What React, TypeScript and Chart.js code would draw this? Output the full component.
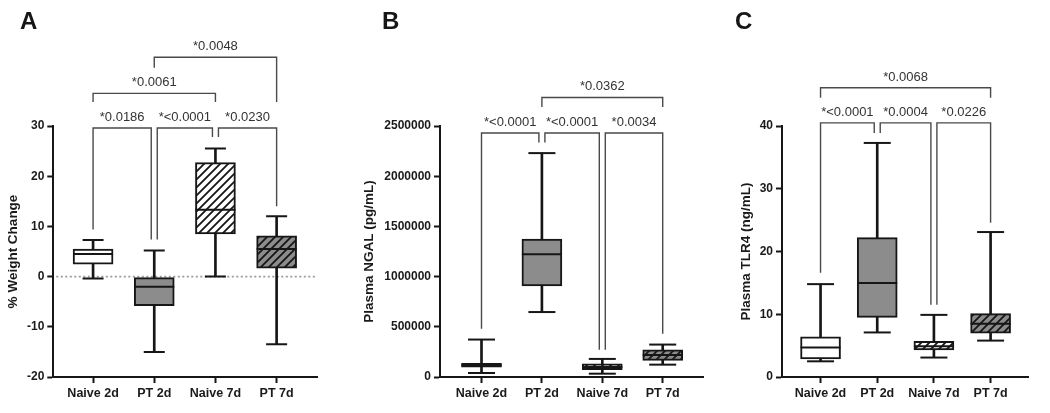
import React, { useEffect, useRef } from "react";
import { Chart, registerables } from "chart.js";

Chart.register(...registerables);
Chart.defaults.font.family = '"Liberation Sans", Arial, Helvetica, sans-serif';

const categories = ["Naive 2d", "PT 2d", "Naive 7d", "PT 7d"];

// Panel A – % Weight Change
const weightMin = [-0.4, -15.0, 0.0, -13.5];
const weightQ1 = [2.5, -5.8, 8.5, 1.7];
const weightMedian = [4.5, -2.0, 13.3, 5.5];
const weightQ3 = [5.5, -0.2, 22.7, 8.1];
const weightMax = [7.3, 5.2, 25.5, 12.0];
const weightPLabels = ["*0.0186", "*<0.0001", "*0.0230", "*0.0061", "*0.0048"];
const weightPFrom = [0, 1, 2, 0, 1];
const weightPTo = [1, 2, 3, 2, 3];
const weightPLevel = [29.6, 29.6, 29.6, 36.5, 43.7];
const weightPLeftEnd = [9.4, 7.4, 27.8, 34.8, 41.6];
const weightPRightEnd = [7.4, 27.8, 14.0, 34.8, 34.8];

// Panel B – Plasma NGAL (pg/mL)
const ngalMin = [40000, 647000, 33000, 123000];
const ngalQ1 = [97000, 907000, 73000, 165000];
const ngalMedian = [116000, 1223000, 100000, 220000];
const ngalQ3 = [136000, 1373000, 130000, 270000];
const ngalMax = [373000, 2230000, 180000, 323000];
const ngalPLabels = ["*<0.0001", "*<0.0001", "*0.0034", "*0.0362"];
const ngalPFrom = [0, 1, 2, 1];
const ngalPTo = [1, 2, 3, 3];
const ngalPLevel = [2430000, 2430000, 2430000, 2784000];
const ngalPLeftEnd = [480000, 2335000, 272000, 2688000];
const ngalPRightEnd = [2335000, 272000, 430000, 2688000];

// Panel C – Plasma TLR4 (ng/mL)
const tlrMin = [2.5, 7.1, 3.1, 5.8];
const tlrQ1 = [2.9, 9.5, 4.3, 7.0];
const tlrMedian = [4.7, 15.0, 4.9, 8.5];
const tlrQ3 = [6.4, 22.2, 5.7, 10.1];
const tlrMax = [14.8, 37.3, 9.9, 23.1];
const tlrPLabels = ["*<0.0001", "*0.0004", "*0.0226", "*0.0068"];
const tlrPFrom = [0, 1, 2, 0];
const tlrPTo = [1, 2, 3, 3];
const tlrPLevel = [40.5, 40.5, 40.5, 46.1];
const tlrPLeftEnd = [16.6, 38.9, 11.5, 44.5];
const tlrPRightEnd = [38.9, 11.5, 24.6, 44.5];

const GRAY = "#8c8c8c";
const INK = "#161616";

function makeHatch(bg: string): CanvasPattern | string {
  const s = 8;
  const c = document.createElement("canvas");
  c.width = s;
  c.height = s;
  const g = c.getContext("2d");
  if (!g) return bg;
  g.fillStyle = bg;
  g.fillRect(0, 0, s, s);
  g.strokeStyle = INK;
  g.lineWidth = 1.8;
  g.beginPath();
  g.moveTo(-1, s + 1);
  g.lineTo(s + 1, -1);
  g.moveTo(-1, 1);
  g.lineTo(1, -1);
  g.moveTo(s - 1, s + 1);
  g.lineTo(s + 1, s - 1);
  g.stroke();
  return g.createPattern(c, "repeat") || bg;
}

const panels = [
  {
    letter: "A", letterX: 20, title: "% Weight Change",
    min: weightMin, q1: weightQ1, median: weightMedian, q3: weightQ3, max: weightMax,
    pLabels: weightPLabels, pFrom: weightPFrom, pTo: weightPTo, pLevel: weightPLevel,
    pLeftEnd: weightPLeftEnd, pRightEnd: weightPRightEnd,
    yMin: -20, yMax: 30, yStep: 10, xMin: -0.65, xMax: 3.66,
    padLeft: 5.2, axisWidth: 48.1, padRight: 733, capR: 10.5, zeroLine: true,
  },
  {
    letter: "B", letterX: 382, title: "Plasma NGAL (pg/mL)",
    min: ngalMin, q1: ngalQ1, median: ngalMedian, q3: ngalQ3, max: ngalMax,
    pLabels: ngalPLabels, pFrom: ngalPFrom, pTo: ngalPTo, pLevel: ngalPLevel,
    pLeftEnd: ngalPLeftEnd, pRightEnd: ngalPRightEnd,
    yMin: 0, yMax: 2500000, yStep: 500000, xMin: -0.687, xMax: 3.667,
    padLeft: 360.9, axisWidth: 79.1, padRight: 347, capR: 13.5, zeroLine: false,
  },
  {
    letter: "C", letterX: 735, title: "Plasma TLR4 (ng/mL)",
    min: tlrMin, q1: tlrQ1, median: tlrMedian, q3: tlrQ3, max: tlrMax,
    pLabels: tlrPLabels, pFrom: tlrPFrom, pTo: tlrPTo, pLevel: tlrPLevel,
    pLeftEnd: tlrPLeftEnd, pRightEnd: tlrPRightEnd,
    yMin: 0, yMax: 40, yStep: 10, xMin: -0.68, xMax: 3.66,
    padLeft: 738.6, axisWidth: 43.4, padRight: 5, capR: 13.5, zeroLine: false,
  },
];

type PanelCfg = (typeof panels)[number];

const annotationPlugin = {
  id: "boxAnnotations",
  beforeDatasetsDraw(chart: any, _args: any, opts: any) {
    const p: PanelCfg = opts.panel;
    if (!p || !p.zeroLine) return;
    const { ctx, chartArea } = chart;
    const y = chart.scales.y.getPixelForValue(0);
    ctx.save();
    ctx.strokeStyle = "#9a9a9a";
    ctx.lineWidth = 1.6;
    ctx.setLineDash([2, 2.5]);
    ctx.beginPath();
    ctx.moveTo(chartArea.left + 3, y);
    ctx.lineTo(chartArea.right, y);
    ctx.stroke();
    ctx.restore();
  },
  afterDraw(chart: any, _args: any, opts: any) {
    const p: PanelCfg = opts.panel;
    if (!p) return;
    const { ctx } = chart;
    const xs = chart.scales.x;
    const ys = chart.scales.y;
    ctx.save();
    // panel letter
    ctx.fillStyle = INK;
    ctx.font = 'bold 24px "Liberation Sans", Arial, sans-serif';
    ctx.textAlign = "left";
    ctx.textBaseline = "alphabetic";
    ctx.fillText(p.letter, p.letterX, 29);

    // significance brackets
    const n = p.pLabels.length;
    for (let i = 0; i < n; i++) {
      const from = p.pFrom[i];
      const to = p.pTo[i];
      const lvl = p.pLevel[i];
      let offL = 0;
      let offR = 0;
      for (let j = 0; j < n; j++) {
        if (j === i || p.pLevel[j] !== lvl) continue;
        if (p.pTo[j] === from) offL = 3;
        if (p.pFrom[j] === to) offR = -3;
      }
      const xl = xs.getPixelForValue(from) + offL;
      const xr = xs.getPixelForValue(to) + offR;
      const yl = ys.getPixelForValue(lvl);
      const yle = ys.getPixelForValue(p.pLeftEnd[i]);
      const yre = ys.getPixelForValue(p.pRightEnd[i]);
      ctx.strokeStyle = "#4a4a4a";
      ctx.lineWidth = 1.4;
      ctx.setLineDash([]);
      ctx.beginPath();
      ctx.moveTo(xl, yle);
      ctx.lineTo(xl, yl);
      ctx.lineTo(xr, yl);
      ctx.lineTo(xr, yre);
      ctx.stroke();
      ctx.fillStyle = "#333333";
      ctx.font = '13px "Liberation Sans", Arial, sans-serif';
      ctx.textAlign = "center";
      ctx.textBaseline = "alphabetic";
      ctx.fillText(p.pLabels[i], (xl + xr) / 2, yl - 7);
    }
    ctx.restore();
  },
};

function Panel({ cfg }: { cfg: PanelCfg }) {
  const ref = useRef<HTMLCanvasElement | null>(null);
  useEffect(() => {
    if (!ref.current) return;
    const fills = ["#ffffff", GRAY, makeHatch("#ffffff"), makeHatch(GRAY)];
    const idx = categories.map((_, i) => i);
    const chart = new Chart(ref.current, {
      type: "bar",
      data: {
        datasets: [
          {
            type: "scatter",
            label: "median",
            data: idx.map((i) => ({ x: i, y: cfg.median[i] })),
            pointStyle: "line",
            pointRadius: 20,
            pointHoverRadius: 20,
            pointBorderWidth: 2,
            pointBorderColor: INK,
            pointBackgroundColor: INK,
            showLine: false,
            order: 0,
          } as any,
          {
            type: "scatter",
            label: "caps",
            data: idx
              .map((i) => ({ x: i, y: cfg.min[i] }))
              .concat(idx.map((i) => ({ x: i, y: cfg.max[i] }))),
            pointStyle: "line",
            pointRadius: cfg.capR,
            pointHoverRadius: cfg.capR,
            pointBorderWidth: 2,
            pointBorderColor: INK,
            pointBackgroundColor: INK,
            showLine: false,
            order: 1,
          } as any,
          {
            type: "bar",
            label: "box",
            data: idx.map((i) => ({ x: i, y: [cfg.q1[i], cfg.q3[i]] })),
            backgroundColor: fills as any,
            borderColor: INK,
            borderWidth: 2,
            borderSkipped: false,
            barThickness: 40,
            grouped: false,
            order: 2,
          } as any,
          {
            type: "bar",
            label: "whisker",
            data: idx.map((i) => ({ x: i, y: [cfg.min[i], cfg.max[i]] })),
            backgroundColor: INK,
            borderWidth: 0,
            barThickness: 2,
            grouped: false,
            order: 3,
          } as any,
        ],
      },
      options: {
        animation: false,
        responsive: false,
        events: [],
        layout: { padding: { left: cfg.padLeft, right: cfg.padRight, top: 126, bottom: 0 } },
        plugins: {
          legend: { display: false },
          tooltip: { enabled: false },
          boxAnnotations: { panel: cfg },
        } as any,
        scales: {
          x: {
            type: "linear",
            min: cfg.xMin,
            max: cfg.xMax,
            offset: false,
            afterBuildTicks: (scale: any) => {
              scale.ticks = categories.map((_, i) => ({ value: i }));
            },
            afterFit: (scale: any) => {
              scale.height = 36;
            },
            grid: {
              display: true,
              offset: false,
              drawOnChartArea: false,
              drawTicks: true,
              tickLength: 6,
              tickWidth: 2,
              tickColor: INK,
              color: INK,
            },
            border: { display: true, color: INK, width: 2 },
            ticks: {
              autoSkip: false,
              maxRotation: 0,
              padding: 3,
              color: "#1a1a1a",
              font: { size: 12.5, weight: "bold" },
              callback: (v: any) => categories[Math.round(Number(v))] ?? "",
            },
          },
          y: {
            type: "linear",
            min: cfg.yMin,
            max: cfg.yMax,
            afterFit: (scale: any) => {
              scale.width = cfg.axisWidth;
            },
            grid: {
              display: true,
              drawOnChartArea: false,
              drawTicks: true,
              tickLength: 6,
              tickWidth: 2,
              tickColor: INK,
              color: INK,
            },
            border: { display: true, color: INK, width: 2 },
            ticks: {
              stepSize: cfg.yStep,
              padding: 3,
              color: "#1a1a1a",
              font: { size: 12, weight: "bold" },
              callback: (v: any) => String(v),
            },
            title: {
              display: true,
              text: cfg.title,
              color: "#1a1a1a",
              padding: 0,
              font: { size: 13.5, weight: "bold" },
            },
          },
        },
      } as any,
      plugins: [annotationPlugin as any],
    });
    return () => chart.destroy();
  }, [cfg]);
  return (
    <canvas
      ref={ref}
      width={1050}
      height={413}
      style={{ position: "absolute", left: 0, top: 0, width: 1050, height: 413 }}
    />
  );
}

export default function App() {
  return (
    <div
      style={{
        position: "absolute",
        left: 0,
        top: 0,
        width: 1050,
        height: 413,
        background: "#ffffff",
        overflow: "hidden",
      }}
    >
      {panels.map((p) => (
        <Panel key={p.letter} cfg={p} />
      ))}
    </div>
  );
}
